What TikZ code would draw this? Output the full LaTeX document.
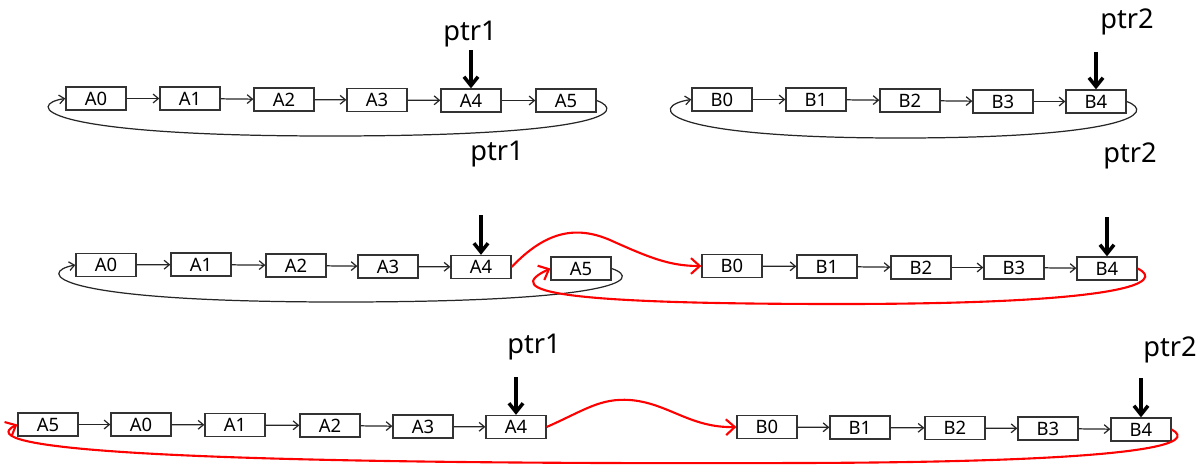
\documentclass[tikz,border=0pt]{standalone}
\usepackage{fontspec}
\setmainfont{Noto Sans}
\usetikzlibrary{arrows.meta}
\tikzset{
  cell/.style={draw=black!80,fill=white,line width=0.75pt,minimum width=1.2cm,minimum height=0.46cm,inner sep=0pt,font=\fontsize{10.5}{12}\selectfont},
  nxt/.style={-{Straight Barb[length=3pt,width=5pt]},line width=0.7pt,black!85},
  ptr/.style={-{Straight Barb[length=5pt,width=8pt]},line width=2pt},
  link/.style={-{Straight Barb[length=5pt,width=9pt]},line width=1.2pt,red},
  lbl/.style={font=\fontsize{15.5}{18}\selectfont}
}
\begin{document}
\begin{tikzpicture}[x=0.02cm,y=-0.02cm]
\useasboundingbox (0,0) rectangle (1200,466);
% first list: A0..A5 and B0..B4
\node[cell] (a0) at (96,98.5) {A0}; \node[cell] (a1) at (190,98.5) {A1}; \node[cell] (a2) at (284,99.5) {A2};
\node[cell] (a3) at (377,100) {A3}; \node[cell] (a4) at (471,100.5) {A4}; \node[cell] (a5) at (566,100.5) {A5};
\node[cell] (b0) at (722,99.5) {B0}; \node[cell] (b1) at (816,99.5) {B1}; \node[cell] (b2) at (910,100.5) {B2};
\node[cell] (b3) at (1003,101.5) {B3}; \node[cell] (b4) at (1096,101.5) {B4};
\draw[nxt] (a0) -- (a1); \draw[nxt] (a1) -- (a2); \draw[nxt] (a2) -- (a3); \draw[nxt] (a3) -- (a4); \draw[nxt] (a4) -- (a5);
\draw[nxt] (b0) -- (b1); \draw[nxt] (b1) -- (b2); \draw[nxt] (b2) -- (b3); \draw[nxt] (b3) -- (b4);
\draw[nxt] (a5.east) .. controls (628,112) and (600,136) .. (330,136) .. controls (30,136) and (28,104) .. (a0.west);
\draw[nxt] (b4.east) .. controls (1158,113) and (1125,138) .. (900,138) .. controls (655,138) and (648,106) .. (b0.west);
\node[lbl] (p1) at (470,34) {ptr1}; \coordinate (t1) at (471,50); \draw[ptr] (t1) -- (a4.north);
\node[lbl] (p2) at (1127,22) {ptr2}; \coordinate (t2) at (1096,52); \draw[ptr] (t2) -- (b4.north);
\node[lbl] (q1) at (497,154) {ptr1}; \node[lbl] (q2) at (1130,156) {ptr2};
% second: A5 cut out, B joined
\node[cell] (a0m) at (106,265) {A0}; \node[cell] (a1m) at (201,264.5) {A1}; \node[cell] (a2m) at (296,265.5) {A2};
\node[cell] (a3m) at (388,266.5) {A3}; \node[cell] (a4m) at (481,267) {A4}; \node[cell] (a5m) at (581,268.5) {A5};
\node[cell] (b0m) at (732,266) {B0}; \node[cell] (b1m) at (827,266.5) {B1}; \node[cell] (b2m) at (921,267.5) {B2};
\node[cell] (b3m) at (1014,267.5) {B3}; \node[cell] (b4m) at (1107,268.5) {B4};
\draw[nxt] (a0m) -- (a1m); \draw[nxt] (a1m) -- (a2m); \draw[nxt] (a2m) -- (a3m); \draw[nxt] (a3m) -- (a4m);
\draw[nxt] (b0m) -- (b1m); \draw[nxt] (b1m) -- (b2m); \draw[nxt] (b2m) -- (b3m); \draw[nxt] (b3m) -- (b4m);
\draw[nxt] (a5m.east) .. controls (645,280) and (612,302) .. (340,302) .. controls (45,302) and (38,272) .. (a0m.west);
\coordinate (t3) at (481,215); \draw[ptr] (t3) -- (a4m.north);
\coordinate (t4) at (1107,217); \draw[ptr] (t4) -- (b4m.north);
\draw[link] (a4m.east) .. controls (545,232) and (575,225) .. (610,240) .. controls (650,258) and (670,266) .. (b0m.west);
\draw[link] (b4m.east) .. controls (1165,282) and (1130,304) .. (840,304) .. controls (560,304) and (500,292) .. (a5m.west);
% third: joined list
\node[cell] (a5l) at (48,424.5) {A5}; \node[cell] (a0l) at (141,424.5) {A0}; \node[cell] (a1l) at (235,425) {A1};
\node[cell] (a2l) at (330,425.5) {A2}; \node[cell] (a3l) at (423,426.5) {A3}; \node[cell] (a4l) at (516,427) {A4};
\node[cell] (b0l) at (767,427) {B0}; \node[cell] (b1l) at (860,427.5) {B1}; \node[cell] (b2l) at (955,428) {B2};
\node[cell] (b3l) at (1048,428.5) {B3}; \node[cell] (b4l) at (1141,429.5) {B4};
\draw[nxt] (a5l) -- (a0l); \draw[nxt] (a0l) -- (a1l); \draw[nxt] (a1l) -- (a2l); \draw[nxt] (a2l) -- (a3l); \draw[nxt] (a3l) -- (a4l);
\draw[nxt] (b0l) -- (b1l); \draw[nxt] (b1l) -- (b2l); \draw[nxt] (b2l) -- (b3l); \draw[nxt] (b3l) -- (b4l);
\node[lbl] (p3) at (534,347) {ptr1}; \coordinate (t5) at (516,377); \draw[ptr] (t5) -- (a4l.north);
\node[lbl] (p4) at (1170,350) {ptr2}; \coordinate (t6) at (1141,378); \draw[ptr] (t6) -- (b4l.north);
\draw[link] (a4l.east) .. controls (585,410) and (600,398) .. (630,400) .. controls (668,403) and (690,428) .. (b0l.west);
\draw[link] (b4l.east) .. controls (1195,442) and (1165,462) .. (800,463) .. controls (150,465) and (-30,448) .. (a5l.west);
\end{tikzpicture}
\end{document}
